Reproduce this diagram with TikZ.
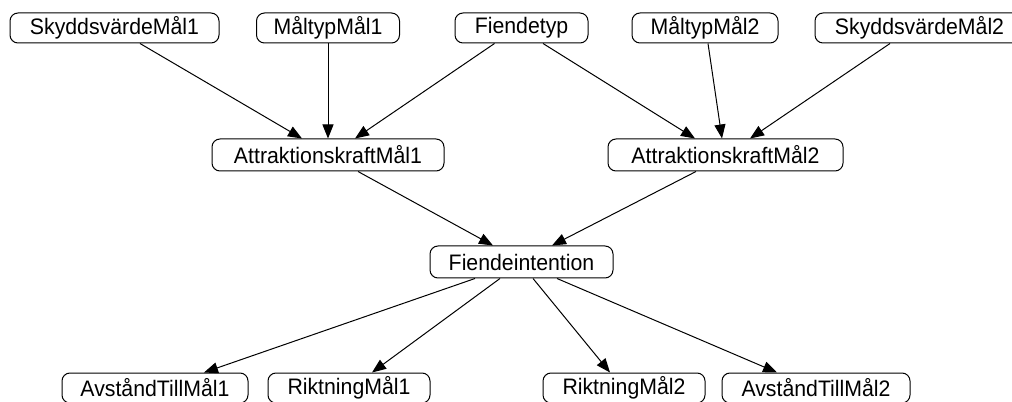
\documentclass[tikz,border=0pt]{standalone}
\usepackage{fontspec}
\setmainfont{Liberation Sans}[FakeStretch=0.95]
\usetikzlibrary{arrows.meta,calc}
\begin{document}
\begin{tikzpicture}[x=0.75pt,y=-0.75pt,
  var/.style={draw,line width=0.75pt,rounded corners=6pt,inner sep=0pt,
    minimum height=22.5pt,font=\fontsize{16.8}{19}\selectfont},
  arr/.style={line width=0.75pt,-{Triangle[length=10.5pt,width=8.25pt]}}]
\useasboundingbox[fill=white] (0,0) rectangle (1012,402);

% top row
\node[var,minimum width=156.75pt] (S1) at (114.5,28) {SkyddsvärdeMål1};
\node[var,minimum width=107.25pt] (M1) at (328,28) {MåltypMål1};
\node[var,minimum width=99.75pt]  (F)  at (521.5,28) {Fiendetyp};
\node[var,minimum width=109.5pt]  (M2) at (705,28) {MåltypMål2};
\node[var,minimum width=156.75pt] (S2) at (919.5,28) {SkyddsvärdeMål2};

% middle rows
\node[var,minimum width=174pt,minimum height=24pt]    (A1) at (328,155) {AttraktionskraftMål1};
\node[var,minimum width=176.25pt,minimum height=24pt] (A2) at (725.5,155) {AttraktionskraftMål2};
\node[var,minimum width=137.25pt,minimum height=24pt] (Fi) at (521.5,262) {Fiendeintention};

% bottom row
\node[var,minimum width=139.5pt] (V1) at (155,388) {AvståndTillMål1};
\node[var,minimum width=121.5pt] (R1) at (349,388) {RiktningMål1};
\node[var,minimum width=121.5pt] (R2) at (624,388) {RiktningMål2};
\node[var,minimum width=141pt]   (V2) at (816,388) {AvståndTillMål2};

% edges
\draw[arr] ($(S1.south)+(25.5,0)$) -- ($(A1.north)+(-26,0)$);
\draw[arr] (M1.south) -- (A1.north);
\draw[arr] ($(F.south)+(-27,0)$) -- ($(A1.north)+(27,0)$);
\draw[arr] ($(F.south)+(21.5,0)$) -- ($(A2.north)+(-30.5,0)$);
\draw[arr] ($(M2.south)+(3,0)$) -- ($(A2.north)+(-3.5,0)$);
\draw[arr] ($(S2.south)+(-29.5,0)$) -- ($(A2.north)+(24.5,0)$);
\draw[arr] ($(A1.south)+(30,0)$) -- ($(Fi.north)+(-28.5,0)$);
\draw[arr] ($(A2.south)+(-29.5,0)$) -- ($(Fi.north)+(30.5,0)$);
\draw[arr] ($(Fi.south)+(-46.5,0)$) -- ($(V1.north)+(49,0)$);
\draw[arr] ($(Fi.south)+(-21.5,0)$) -- ($(R1.north)+(23,0)$);
\draw[arr] ($(Fi.south)+(11.5,0)$) -- ($(R2.north)+(-14,0)$);
\draw[arr] ($(Fi.south)+(35.5,0)$) -- ($(V2.north)+(-39,0)$);
\end{tikzpicture}
\end{document}
